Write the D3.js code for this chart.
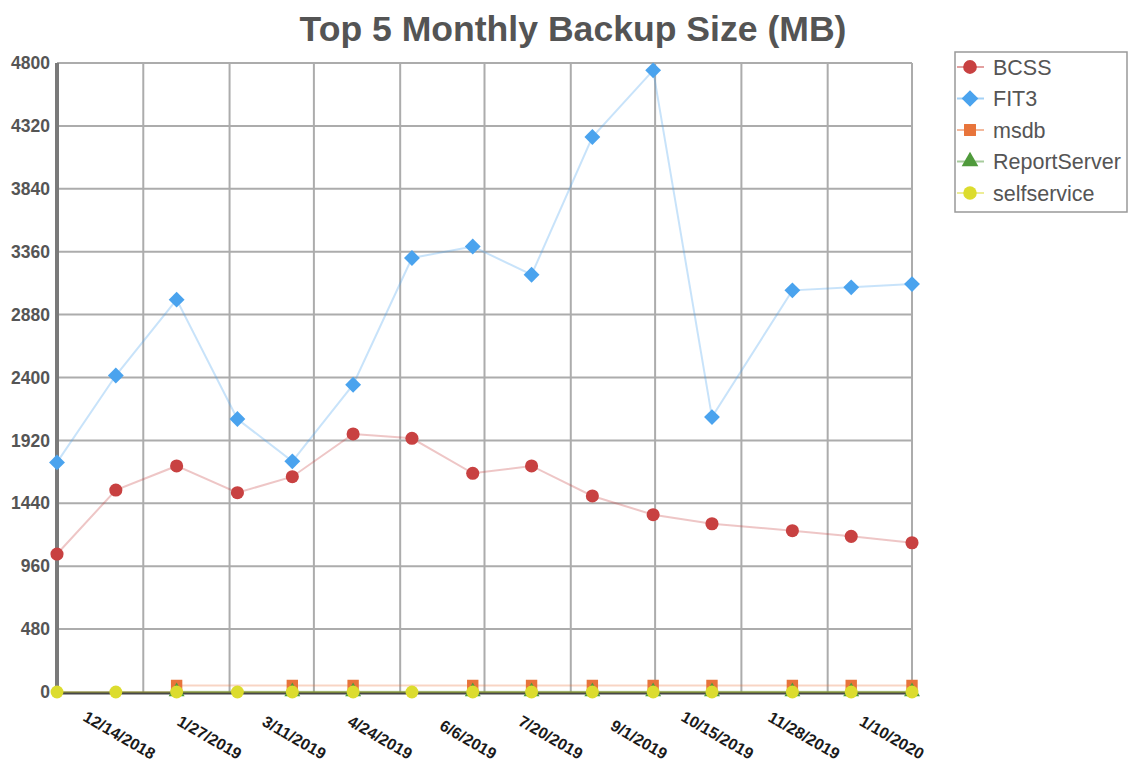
<!DOCTYPE html>
<html>
<head>
<meta charset="utf-8">
<script src="https://cdn.jsdelivr.net/npm/d3@7"></script>
<style>
  html, body { margin: 0; padding: 0; background: #fff; }
  svg { display: block; font-family: "Liberation Sans", Arial, sans-serif; }
</style>
</head>
<body>
<svg id="chart" width="1132" height="768"></svg>
<script>
// ---- data ----
const dates = ["2018-10-31","2018-11-30","2018-12-31","2019-01-31","2019-02-28","2019-03-31","2019-04-30","2019-05-31","2019-06-30","2019-07-31","2019-08-31","2019-09-30","2019-11-10","2019-12-10","2020-01-10"];
const seriesNames = ["BCSS","FIT3","msdb","ReportServer","selfservice"];
const bcss = [1053,1541,1725,1521,1643,1969,1936,1669,1725,1496,1353,1284,1231,1188,1139];
const fit3 = [1752,2415,2994,2083,1760,2345,3312,3400,3184,4235,4744,2098,3065,3088,3113];
const msdb = [null,null,50,null,50,50,null,50,50,50,50,50,50,50,50];
const reportServer = [null,null,2,null,2,2,null,2,2,2,2,2,2,2,2];
const selfservice = [0,0,0,0,0,0,0,0,0,0,0,0,0,0,0];
const xTickLabels = ["12/14/2018","1/27/2019","3/11/2019","4/24/2019","6/6/2019","7/20/2019","9/1/2019","10/15/2019","11/28/2019","1/10/2020"];
const yTicks = [0,480,960,1440,1920,2400,2880,3360,3840,4320,4800];
const title = "Top 5 Monthly Backup Size (MB)";

// ---- styles ----
const colors = ["#c84141","#4aa3ee","#e8743b","#4f9a3b","#dcdc2e"];
const shapes = [d3.symbolCircle, d3.symbolDiamond2, d3.symbolSquare, d3.symbolTriangle, d3.symbolCircle];
const sizes = [135, 160, 130, 110, 130];

const parseDate = s => { const [yr,m,d] = s.split("-").map(Number); return new Date(Date.UTC(yr,m-1,d)); };
const parseLabel = s => { const [m,d,yr] = s.split("/").map(Number); return new Date(Date.UTC(yr,m-1,d)); };

const svg = d3.select("#chart");
const plotL = 57, plotR = 912, plotT = 63, plotB = 692;

const x = d3.scaleUtc().domain([parseDate(dates[0]), parseDate(dates[dates.length-1])]).range([plotL, plotR]);
const y = d3.scaleLinear().domain([0, 4800]).range([plotB, plotT]);

// title
svg.append("text").attr("x", 573).attr("y", 41).attr("text-anchor", "middle")
  .attr("font-size", 35.6).attr("font-weight", "bold").attr("fill", "#545454").text(title);

// horizontal gridlines
svg.append("g").selectAll("line").data(yTicks.filter(v => v > 0)).join("line")
  .attr("x1", plotL).attr("x2", plotR).attr("y1", d => y(d)).attr("y2", d => y(d))
  .attr("stroke", "#acacac").attr("stroke-width", 2);

// vertical gridlines
const tickDates = xTickLabels.map(parseLabel);
svg.append("g").selectAll("line").data(tickDates).join("line")
  .attr("x1", d => x(d)).attr("x2", d => x(d)).attr("y1", plotT).attr("y2", plotB)
  .attr("stroke", "#acacac").attr("stroke-width", 2);

// y labels
svg.append("g").selectAll("text").data(yTicks).join("text")
  .attr("x", 50).attr("y", d => y(d)).attr("dy", "0.35em").attr("text-anchor", "end")
  .attr("font-size", 17.5).attr("font-weight", "bold").attr("fill", "#555").text(d => d);

// x labels (slanted)
svg.append("g").selectAll("text").data(xTickLabels).join("text")
  .attr("transform", d => `translate(${x(parseLabel(d)) + 8},${760}) rotate(30)`)
  .attr("text-anchor", "end")
  .attr("font-size", 16).attr("font-weight", "bold").attr("fill", "#1a1a1a").text(d => d);

// axes lines
svg.append("line").attr("x1", plotL).attr("x2", plotL).attr("y1", plotT).attr("y2", plotB + 1)
  .attr("stroke", "#7a7a7a").attr("stroke-width", 4);
svg.append("line").attr("x1", plotL - 2).attr("x2", plotR).attr("y1", plotB + 1).attr("y2", plotB + 1)
  .attr("stroke", "#474747").attr("stroke-width", 3);

// series
const allSeries = [bcss, fit3, msdb, reportServer, selfservice];
const lineGen = d3.line().x(d => x(d.date)).y(d => y(d.v));
allSeries.forEach((vals, i) => {
  const pts = vals.map((v, j) => ({date: parseDate(dates[j]), v})).filter(p => p.v !== null);
  svg.append("path").datum(pts).attr("d", lineGen)
    .attr("fill", "none").attr("stroke", colors[i]).attr("stroke-opacity", 0.3).attr("stroke-width", 2);
});
allSeries.forEach((vals, i) => {
  const pts = vals.map((v, j) => ({date: parseDate(dates[j]), v})).filter(p => p.v !== null);
  svg.append("g").selectAll("path").data(pts).join("path")
    .attr("transform", d => `translate(${x(d.date)},${y(d.v)})`)
    .attr("d", d3.symbol().type(shapes[i]).size(sizes[i]))
    .attr("fill", colors[i]);
});

// legend
const lg = svg.append("g");
lg.append("rect").attr("x", 955).attr("y", 52).attr("width", 172).attr("height", 160)
  .attr("fill", "#fff").attr("stroke", "#999").attr("stroke-width", 1.5);
const legY = d3.scalePoint().domain(seriesNames).range([67, 193]);
seriesNames.forEach((name, i) => {
  const yy = legY(name);
  lg.append("line").attr("x1", 957).attr("x2", 984).attr("y1", yy).attr("y2", yy)
    .attr("stroke", colors[i]).attr("stroke-opacity", 0.5).attr("stroke-width", 2);
  lg.append("path").attr("transform", `translate(970,${yy})`)
    .attr("d", d3.symbol().type(shapes[i]).size(sizes[i] * 1.1)).attr("fill", colors[i]);
  lg.append("text").attr("x", 993).attr("y", yy).attr("dy", "0.35em")
    .attr("font-size", 21.5).attr("fill", "#555").text(name);
});
</script>
</body>
</html>
